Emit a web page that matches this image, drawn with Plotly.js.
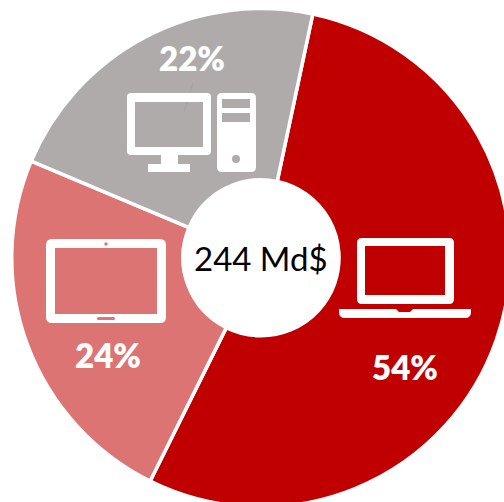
<!DOCTYPE html>
<html><head><meta charset="utf-8">
<script src="https://cdn.plot.ly/plotly-3.0.1.min.js"></script>
<style>html,body{margin:0;padding:0;background:#fff;overflow:hidden}#c{width:520px;height:520px}</style>
</head><body><div id="c"></div>
<script>
const categories = ['Ordinateurs portables', 'Tablettes', 'Ordinateurs de bureau'];
const values = [54, 24, 22];
const colors = ['#C00000', '#DC7474', '#AFABAB'];
const centerLabel = '244 Md$';

const S = 520;
const X = p => p / S, Y = p => 1 - p / S;
const FONT = 'Lato, Carlito, "Open Sans", sans-serif';

function rr(x0, y0, x1, y1, r) {
  return `M${X(x0 + r)},${Y(y0)}L${X(x1 - r)},${Y(y0)}Q${X(x1)},${Y(y0)} ${X(x1)},${Y(y0 + r)}` +
         `L${X(x1)},${Y(y1 - r)}Q${X(x1)},${Y(y1)} ${X(x1 - r)},${Y(y1)}` +
         `L${X(x0 + r)},${Y(y1)}Q${X(x0)},${Y(y1)} ${X(x0)},${Y(y1 - r)}` +
         `L${X(x0)},${Y(y0 + r)}Q${X(x0)},${Y(y0)} ${X(x0 + r)},${Y(y0)}Z`;
}
function poly(pts) {
  return 'M' + pts.map(p => X(p[0]) + ',' + Y(p[1])).join('L') + 'Z';
}
const solid = (path) => ({type: 'path', xref: 'paper', yref: 'paper', path, fillcolor: '#fff', line: {width: 0}, fillrule: 'evenodd', layer: 'above'});
const fillShape = (path, color) => ({type: 'path', xref: 'paper', yref: 'paper', path, fillcolor: color, line: {width: 0}, layer: 'above'});

const shapes = [
  // desktop
  {type: 'line', xref: 'paper', yref: 'paper', x0: X(193), y0: Y(83), x1: X(184), y1: Y(112), line: {color: '#A4A1A0', width: 1}, layer: 'above'},
  solid(rr(127, 93, 211, 155, 4) + poly([[135, 102], [203, 102], [203, 147], [135, 147]])),
  solid(poly([[161, 155], [178, 155], [178, 164], [190, 164], [190, 172], [148, 172], [148, 164], [161, 164]])),
  solid(rr(217, 93, 256, 172, 5) + poly([[222, 99], [250, 99], [250, 108], [222, 108]]) + poly([[222, 113], [250, 113], [250, 122], [222, 122]])),
  fillShape(rr(232, 155, 240, 163, 4), colors[2]),
  // tablet
  solid(rr(46, 239, 166, 323, 6) + poly([[55, 248], [157, 248], [157, 314], [55, 314]])),
  fillShape(rr(104.3, 242.3, 107.7, 245.7, 1.7), colors[1]),
  fillShape(rr(97, 317, 115, 320, 1.5), colors[1]),
  // laptop
  solid(rr(357, 238, 454, 304, 5) + poly([[365, 246], [445, 246], [445, 295], [365, 295]])),
  solid(`M${X(339)},${Y(309)}L${X(396)},${Y(309)}L${X(399)},${Y(312)}L${X(410)},${Y(312)}L${X(413)},${Y(309)}L${X(471)},${Y(309)}` +
        `L${X(471)},${Y(312)}Q${X(471)},${Y(318)} ${X(465)},${Y(318)}L${X(345)},${Y(318)}Q${X(339)},${Y(318)} ${X(339)},${Y(312)}Z`)
];

const pctPos = [[405, 367], [108, 355], [192, 58]];
const annotations = values.map((v, i) => ({
  xref: 'paper', yref: 'paper', x: X(pctPos[i][0]), y: Y(pctPos[i][1]),
  text: v + '%', showarrow: false, xanchor: 'center', yanchor: 'middle',
  font: {family: FONT, size: 33, weight: 800, color: '#fff'}
}));
annotations.push({
  xref: 'paper', yref: 'paper', x: X(261), y: Y(258), text: centerLabel, showarrow: false,
  xanchor: 'center', yanchor: 'middle', font: {family: FONT, size: 33, color: '#000'}
});

Plotly.newPlot('c', [{
  type: 'pie', labels: categories, values: values, sort: false, direction: 'clockwise', rotation: 12,
  hole: 0.313, marker: {colors: colors, line: {color: '#fff', width: 3.5}},
  textinfo: 'none', hoverinfo: 'skip',
  domain: {x: [X(11.75), X(510.25)], y: [Y(507), Y(8.5)]}
}], {
  width: S, height: S, margin: {l: 0, r: 0, t: 0, b: 0},
  paper_bgcolor: '#fff', showlegend: false, shapes, annotations
}, {displayModeBar: false, staticPlot: true});
</script></body></html>
